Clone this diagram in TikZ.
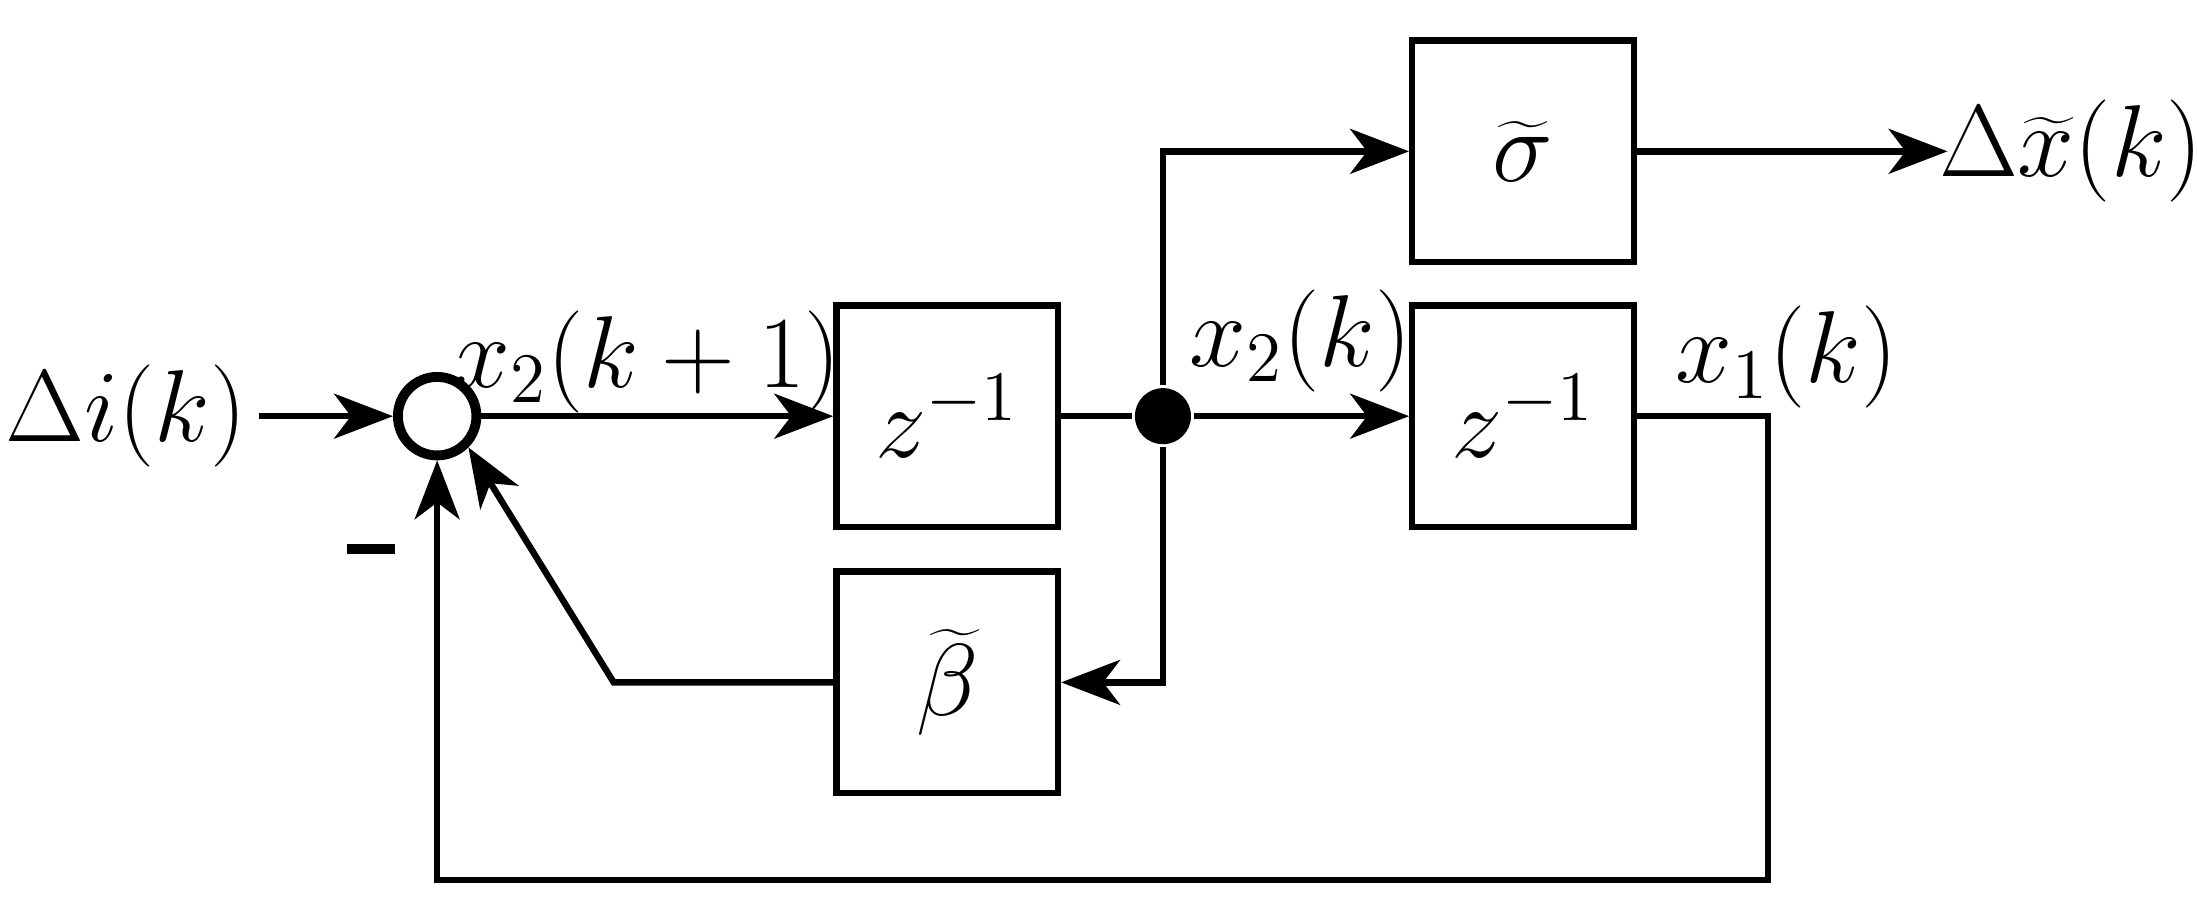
\documentclass[tikz,border=0pt]{standalone}
\usetikzlibrary{arrows.meta}
\begin{document}
\begin{tikzpicture}[x=0.01cm,y=-0.01cm,line width=1.3pt,
  blk/.style={draw,minimum width=1.58cm,minimum height=1.58cm,inner sep=0pt,font=\fontsize{20}{24}\selectfont},
  lbl/.style={font=\fontsize{20}{24}\selectfont,inner sep=0pt},
  arr/.style={-{Stealth[length=4.2mm,width=3.2mm,inset=1.2mm]}}]
\useasboundingbox (0,0) rectangle (1568,647);
\node[draw,circle,minimum size=0.56cm,inner sep=0pt,line width=2pt] (s) at (312,297) {};
\node[blk] (z1) at (676,297) {$z^{-1}$};
\node[blk] (z2) at (1087,297) {$z^{-1}$};
\node[blk] (sg) at (1087,108) {$\widetilde{\sigma}$};
\node[blk] (bt) at (676,487) {$\widetilde{\beta}$};
\node[circle,fill,minimum size=0.4cm,inner sep=0pt] (j) at (830,297) {};
\node[lbl] (in) at (90,297) {$\Delta i(k)$};
\node[lbl] (out) at (1478,108) {$\Delta\widetilde{x}(k)$};
\node[lbl] at (462,258) {$x_2(k+1)$};
\node[lbl] at (928,243) {$x_2(k)$};
\node[lbl] at (1275,255) {$x_1(k)$};
\node[fill,minimum width=0.34cm,minimum height=0.07cm,inner sep=0pt] (m) at (265,392) {};
\coordinate (i0) at (185,297);
\coordinate (o1) at (1390,108);
\coordinate (a) at (438,487);
\coordinate (c1) at (1262,297);
\coordinate (c2) at (1262,628);
\coordinate (c3) at (312,628);
\draw[arr] (i0) -- (s.west);
\draw[arr] (s.east) -- (z1.west);
\draw (z1.east) -- (j);
\draw[arr] (j) -- (z2.west);
\draw[arr] (j) |- (sg.west);
\draw[arr] (sg.east) -- (o1);
\draw[arr] (j) |- (bt.east);
\draw[arr] (bt.west) -- (a) -- (s.south east);
\draw[arr] (z2.east) -- (c1) -- (c2) -- (c3) -- (s.south);
\end{tikzpicture}
\end{document}
